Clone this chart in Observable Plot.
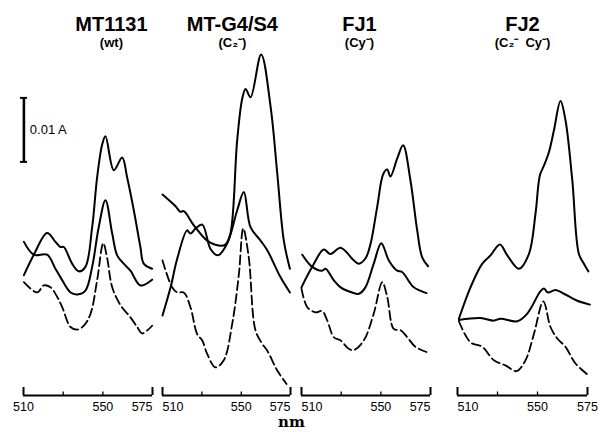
<!DOCTYPE html>
<html>
<head>
<meta charset="utf-8">
<script src="https://cdn.jsdelivr.net/npm/d3@7"></script>
<script src="https://cdn.jsdelivr.net/npm/@observablehq/plot@0.6"></script>
<style>
  html, body { margin: 0; padding: 0; background: white; }
  #chart { position: relative; width: 600px; height: 432px; overflow: hidden; }
  #chart svg { position: absolute; left: 0; top: 0; }
</style>
</head>
<body>
<div id="chart"></div>
<script>
// Wavelength (nm) vs absorbance difference (units of 0.001 A)
const labeledTicks = [510, 550, 575];
const minorTicks = [530, 550];
const endTicks = [510, 575];

const strainNames = ["MT1131", "MT-G4/S4", "FJ1", "FJ2"];
const strainTypes = ["(wt)", "(C\u2082\u207B)", "(Cy\u207B)", "(C\u2082\u207B  Cy\u207B)"];

// MT1131 (wt)
const mt1131Top = [[510.2,18.8],[515.2,22.0],[521.9,25.4],[526.1,24.0],[528.6,23.2],[530.3,23.2],[534.5,20.6],[537.9,19.4],[541.2,20.1],[544.6,26.3],[547.1,34.1],[549.7,39.3],[551.3,40.5],[555.5,35.2],[559.7,37.2],[562.2,34.1],[565.6,28.9],[568.9,23.2],[570.6,20.6],[574.8,19.8]];
const mt1131Mid = [[510.2,24.0],[515.2,22.0],[521.9,22.0],[526.1,19.8],[528.6,18.5],[533.7,16.1],[537.1,15.8],[541.2,16.4],[544.6,20.1],[547.9,26.3],[551.3,30.5],[554.7,25.3],[557.2,21.9],[560.5,20.6],[563.9,19.5],[568.9,17.2],[574.8,18.1]];
const mt1131Dash = [[510.2,17.7],[516.9,16.1],[520.2,17.2],[523.6,16.9],[527.0,15.4],[529.5,13.8],[533.7,10.7],[537.1,10.3],[540.4,10.9],[543.8,12.8],[547.1,18.0],[550.2,23.8],[552.2,21.4],[554.7,16.9],[558.9,14.1],[563.9,12.2],[567.3,10.7],[569.8,9.7],[574.8,10.9]];

// MT-G4/S4 (C2-)
const g4Top = [[510,31.4],[516.5,29.6],[519.1,28.7],[520.8,28.8],[525.9,26.6],[532.7,24.2],[539.5,23.4],[542.0,23.6],[544.5,25.3],[547.9,39.8],[550.5,46.4],[552.2,47.9],[554.7,46.6],[560.1,53.3],[564.9,45.1],[568.3,34.6],[571.6,24.2],[574.7,19.8]];
const g4Mid = [[510,12.5],[514.1,16.9],[517.5,21.4],[522.5,25.8],[524.2,25.3],[526.8,26.1],[530.2,26.7],[534.4,22.9],[538.1,21.9],[542.9,23.8],[547.9,28.9],[551.3,31.8],[554.7,26.3],[559.8,24.2],[563.2,22.7],[569.9,18.5],[574.7,16.1]];
const g4Dash = [[510,21.1],[514.9,16.9],[517.5,16.1],[520.8,16.1],[524.2,13.8],[527.6,9.6],[530.2,8.6],[532.7,6.5],[536.9,4.4],[541.1,5.5],[545.4,11.2],[548.8,19.0],[551.0,26.1],[553.8,21.6],[557.2,10.2],[560.6,8.1],[563.2,7.0],[568.3,3.9],[573.0,1.8]];

// FJ1 (Cy-)
const fj1Top = [[510,16.9],[515.4,20.1],[521.2,22.8],[524.6,22.1],[529.7,23.1],[536.4,21.1],[538.9,20.6],[542.2,21.4],[544.8,23.7],[548.1,29.4],[551.2,34.6],[553.2,35.3],[554.8,34.2],[558.2,37.0],[561.2,39.1],[564.9,33.6],[568.3,25.8],[570.8,21.6],[573.8,20.2]];
const fj1Mid = [[510.4,22.0],[515.4,20.1],[520.4,19.5],[522.1,19.8],[526.3,18.0],[529.7,16.9],[535.5,16.1],[538.9,15.9],[542.2,16.9],[546.4,20.6],[550.2,23.8],[554.0,21.1],[558.2,19.5],[560.7,19.3],[566.6,16.9],[573.0,16.0]];
const fj1Dash = [[510,16.7],[512.9,13.8],[517.1,13.0],[520.4,13.2],[523.0,11.7],[526.3,9.1],[529.7,8.6],[533.8,7.3],[536.4,7.1],[541.4,8.6],[546.4,12.8],[550.7,17.7],[553.2,15.4],[556.5,10.4],[559.9,10.2],[563.3,9.1],[567.4,7.6],[573.0,6.8]];

// FJ2 (C2- Cy-)
const fj2Top = [[510.7,12.0],[516.5,16.9],[522.4,20.6],[526.5,21.9],[531.2,23.6],[534.9,21.9],[540.7,19.8],[545.7,22.1],[549.0,28.4],[551.2,34.4],[553.2,35.9],[555.7,38.0],[558.2,41.4],[561.5,46.0],[564.0,43.0],[567.4,33.6],[570.7,22.1],[573.2,20.6],[575.4,19.4]];
const fj2Mid = [[510.7,11.8],[521.5,12.1],[528.2,11.7],[531.5,12.0],[539.9,11.6],[544.9,12.8],[551.5,16.3],[553.2,16.7],[555.2,16.1],[559.0,16.5],[563.2,15.9],[569.9,14.8],[576.2,14.2]];
const fj2Dash = [[510.7,11.6],[516.5,8.3],[522.4,7.6],[528.2,5.5],[534.0,4.7],[539.5,3.8],[544.0,5.5],[548.2,9.6],[552.9,14.7],[556.5,10.7],[559.9,8.9],[564.0,7.6],[569.0,5.0],[575.7,3.1]];

// scale bar: 0.01 A = 10 units
const scaleBarBase = 36.5;
const scaleBarSize = 10;
const scaleBarLabel = "0.01 A";

// title anchor wavelength within each panel
const titleAt = [554.3, 545.5, 539.2, 542.5];

const curves = [
  [mt1131Top, mt1131Mid, mt1131Dash],
  [g4Top, g4Mid, g4Dash],
  [fj1Top, fj1Mid, fj1Dash],
  [fj2Top, fj2Mid, fj2Dash]
];

// layout: pixel extent of each panel's 510..575 axis
const panelLeft = [23, 162, 301, 457];
const panelRight = [152, 290, 430, 587];
// text anchor of the 510 / 550 / 575 labels in each panel
const tickAnchors = [
  ["middle", "middle", "end"],
  ["start", "middle", "end"],
  ["start", "middle", "end"],
  ["start", "middle", "middle"]
];

const W = 600, H = 432;
const sans = "'Liberation Sans', Arial, Helvetica, sans-serif";
const chart = document.getElementById("chart");

curves.forEach((set, i) => {
  const toRows = arr => arr.map(([nm, a]) => ({nm, a}));
  const marks = [
    Plot.ruleY([0], {stroke: "black", strokeWidth: 1.8}),
    Plot.ruleX(endTicks, {y1: 0, y2: 1.25, stroke: "black", strokeWidth: 2}),
    Plot.ruleX(minorTicks, {y1: 0, y2: 0.55, stroke: "black", strokeWidth: 1.3}),
    ...labeledTicks.map((t, k) =>
      Plot.axisX([t], {tickSize: 0, tickPadding: 7, label: null, fontSize: 12.5, textAnchor: tickAnchors[i][k], tickFormat: d => String(d)})
    ),
    Plot.line(toRows(set[0]), {x: "nm", y: "a", stroke: "black", strokeWidth: 2, curve: "catmull-rom"}),
    Plot.line(toRows(set[1]), {x: "nm", y: "a", stroke: "black", strokeWidth: 2, curve: "catmull-rom"}),
    Plot.line(toRows(set[2]), {x: "nm", y: "a", stroke: "black", strokeWidth: 1.8, curve: "catmull-rom", strokeDasharray: "9,4"}),
    Plot.text([strainNames[i]], {x: titleAt[i], y: 57.0, text: d => d, fontSize: 20, fontWeight: "bold", lineAnchor: "bottom", fill: "black"}),
    Plot.text([strainTypes[i]], {x: titleAt[i], y: 54.5, text: d => d, fontSize: 13, fontWeight: "bold", lineAnchor: "bottom", fill: "black"})
  ];
  if (i === 0) {
    marks.push(
      Plot.ruleX([510.2], {y1: scaleBarBase, y2: scaleBarBase + scaleBarSize, stroke: "black", strokeWidth: 2.6}),
      Plot.ruleY([scaleBarBase, scaleBarBase + scaleBarSize], {x1: 508.5, x2: 512, stroke: "black", strokeWidth: 2}),
      Plot.text([scaleBarLabel], {x: 513.2, y: scaleBarBase + scaleBarSize / 2, text: d => d, textAnchor: "start", fontSize: 13, fill: "black"})
    );
  }
  if (i === 1) {
    marks.push(
      Plot.text(["nm"], {x: 575.5, y: -4.9, text: d => d, fontSize: 15, fontWeight: "bold", fontFamily: "'DejaVu Serif', serif", lineAnchor: "bottom", fill: "black"})
    );
  }
  const svg = Plot.plot({
    width: W,
    height: H,
    marginLeft: panelLeft[i],
    marginRight: W - panelRight[i],
    marginTop: 11,
    marginBottom: 37,
    x: {domain: [510, 575], axis: null, label: null},
    y: {domain: [0, 60], axis: null, label: null},
    style: {background: "transparent", color: "black", fontFamily: sans, fontSize: "12.5px", overflow: "visible"},
    marks
  });
  chart.appendChild(svg);
});
</script>
</body>
</html>
